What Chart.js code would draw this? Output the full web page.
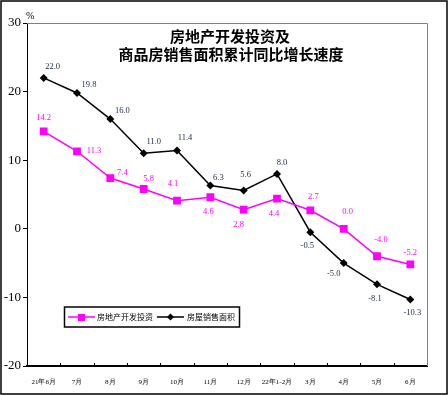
<!DOCTYPE html>
<html>
<head>
<meta charset="utf-8">
<script src="https://cdn.jsdelivr.net/npm/chart.js@4.4.1/dist/chart.umd.min.js"></script>
<style>
  html, body { margin: 0; padding: 0; background: #fff; }
  #wrap { width: 448px; height: 396px; position: relative; }
</style>
</head>
<body>
<div id="wrap"><canvas id="myChart" width="448" height="396"></canvas></div>
<script>
// categories and series
var months = ['21年6月', '7月', '8月', '9月', '10月', '11月', '12月', '22年1-2月', '3月', '4月', '5月', '6月'];
var investment = [14.2, 11.3, 7.4, 5.8, 4.1, 4.6, 2.8, 4.4, 2.7, 0.0, -4.0, -5.2];
var salesArea = [22.0, 19.8, 16.0, 11.0, 11.4, 6.3, 5.6, 8.0, -0.5, -5.0, -8.1, -10.3];
var yTicks = [-20, -10, 0, 10, 20, 30];

// where each value label sits relative to its point (px)
var invLabelPos = [[0,-14],[17,-1],[12,-5],[5,-10],[-4,-17],[-2,15],[-5,15],[-3,15],[3,-14],[4,-17],[4,-16],[0,-12]];
var salesLabelPos = [[9,-11],[12,-8],[12,-8],[10,-12],[8,-13],[8,-8],[2,-16],[5,-11],[-3,14],[-10,11],[-2,14],[2,13]];

var MAGENTA = '#ff00ff';
var serif = '"Liberation Serif", "DejaVu Serif", serif';
var cjk = '"Noto Sans CJK SC", sans-serif';

var decor = {
  id: 'decor',
  beforeDatasetsDraw: function(chart) {
    var ctx = chart.ctx, a = chart.chartArea;
    ctx.save();
    // gray top / right frame of plot
    ctx.strokeStyle = '#808080';
    ctx.lineWidth = 1;
    ctx.beginPath();
    ctx.moveTo(a.left, a.top + 0.5);
    ctx.lineTo(a.right + 0.5, a.top + 0.5);
    ctx.lineTo(a.right + 0.5, a.bottom);
    ctx.stroke();
    // x tick marks between categories, pointing up
    var xs = chart.scales.x;
    ctx.strokeStyle = '#000';
    ctx.beginPath();
    for (var i = 1; i < months.length; i++) {
      var px = Math.round((xs.getPixelForValue(i - 1) + xs.getPixelForValue(i)) / 2) + 0.5;
      ctx.moveTo(px, a.bottom);
      ctx.lineTo(px, a.bottom - 3);
    }
    ctx.stroke();
    ctx.restore();
  },
  afterDraw: function(chart) {
    var ctx = chart.ctx, a = chart.chartArea;
    ctx.save();
    // outer frame
    ctx.strokeStyle = '#000';
    ctx.lineWidth = 1.5;
    ctx.strokeRect(1, 1, 446, 393);

    // title
    ctx.fillStyle = '#000';
    ctx.textAlign = 'center';
    ctx.textBaseline = 'middle';
    ctx.font = 'bold 15px ' + cjk;
    ctx.fillText('房地产开发投资及', 230, 36);
    ctx.fillText('商品房销售面积累计同比增长速度', 231, 54);

    // unit
    ctx.font = '10px ' + serif;
    ctx.textAlign = 'left';
    ctx.fillText('%', 26, 16);

    // value labels
    ctx.font = '8.5px ' + serif;
    ctx.textAlign = 'center';
    var m0 = chart.getDatasetMeta(0), m1 = chart.getDatasetMeta(1);
    ctx.fillStyle = MAGENTA;
    m0.data.forEach(function(p, i) {
      ctx.fillText(investment[i].toFixed(1), p.x + invLabelPos[i][0], p.y + invLabelPos[i][1]);
    });
    ctx.fillStyle = '#1c2a48';
    m1.data.forEach(function(p, i) {
      ctx.fillText(salesArea[i].toFixed(1), p.x + salesLabelPos[i][0], p.y + salesLabelPos[i][1]);
    });

    // legend box
    ctx.strokeStyle = '#000';
    ctx.lineWidth = 1.5;
    ctx.strokeRect(64.5, 307, 175, 20);
    ctx.lineWidth = 1.5;
    ctx.strokeStyle = MAGENTA;
    ctx.beginPath(); ctx.moveTo(68, 317); ctx.lineTo(95, 317); ctx.stroke();
    ctx.fillStyle = MAGENTA;
    ctx.fillRect(78, 314, 7, 7);
    ctx.strokeStyle = '#000';
    ctx.beginPath(); ctx.moveTo(157, 317); ctx.lineTo(184, 317); ctx.stroke();
    ctx.fillStyle = '#000';
    ctx.beginPath();
    ctx.moveTo(170.5, 313.5); ctx.lineTo(174, 317); ctx.lineTo(170.5, 320.5); ctx.lineTo(167, 317);
    ctx.closePath(); ctx.fill();
    ctx.font = '8px ' + cjk;
    ctx.textAlign = 'left';
    ctx.fillStyle = '#000';
    ctx.fillText('房地产开发投资', 97, 317);
    ctx.fillText('房屋销售面积', 187, 317);
    ctx.restore();
  }
};

var config = {
  type: 'line',
  data: {
    labels: months,
    datasets: [
      {
        label: '房地产开发投资',
        data: investment,
        borderColor: MAGENTA,
        backgroundColor: MAGENTA,
        borderWidth: 1.5,
        pointStyle: 'rect',
        pointRadius: 5.5,
        pointBorderWidth: 0,
        tension: 0
      },
      {
        label: '房屋销售面积',
        data: salesArea,
        borderColor: '#000',
        backgroundColor: '#000',
        borderWidth: 1.5,
        pointStyle: 'rectRot',
        pointRadius: 4,
        pointBorderWidth: 0,
        tension: 0
      }
    ]
  },
  options: {
    responsive: false,
    animation: false,
    devicePixelRatio: 1,
    layout: { padding: { left: 0, right: 21, top: 23, bottom: 0 } },
    plugins: {
      legend: { display: false },
      title: { display: false },
      tooltip: { enabled: false }
    },
    scales: {
      x: {
        offset: true,
        grid: { display: false },
        border: { display: true, color: '#000', width: 2 },
        ticks: {
          color: '#000',
          font: { family: serif, size: 7 },
          padding: 4,
          maxRotation: 0,
          autoSkip: false
        },
        afterFit: function(s) { s.height = 30; }
      },
      y: {
        min: -20,
        max: 30,
        afterBuildTicks: function(s) { s.ticks = yTicks.map(function(v) { return { value: v }; }); },
        grid: { drawOnChartArea: false, drawTicks: true, tickLength: 4, color: '#000' },
        border: { display: true, color: '#000', width: 1 },
        ticks: {
          color: '#000',
          font: { family: serif, size: 13 },
          padding: 2
        },
        afterFit: function(s) { s.width = 27; }
      }
    }
  },
  plugins: [decor]
};

var chartInstance = new Chart(document.getElementById('myChart'), config);
</script>
</body>
</html>
